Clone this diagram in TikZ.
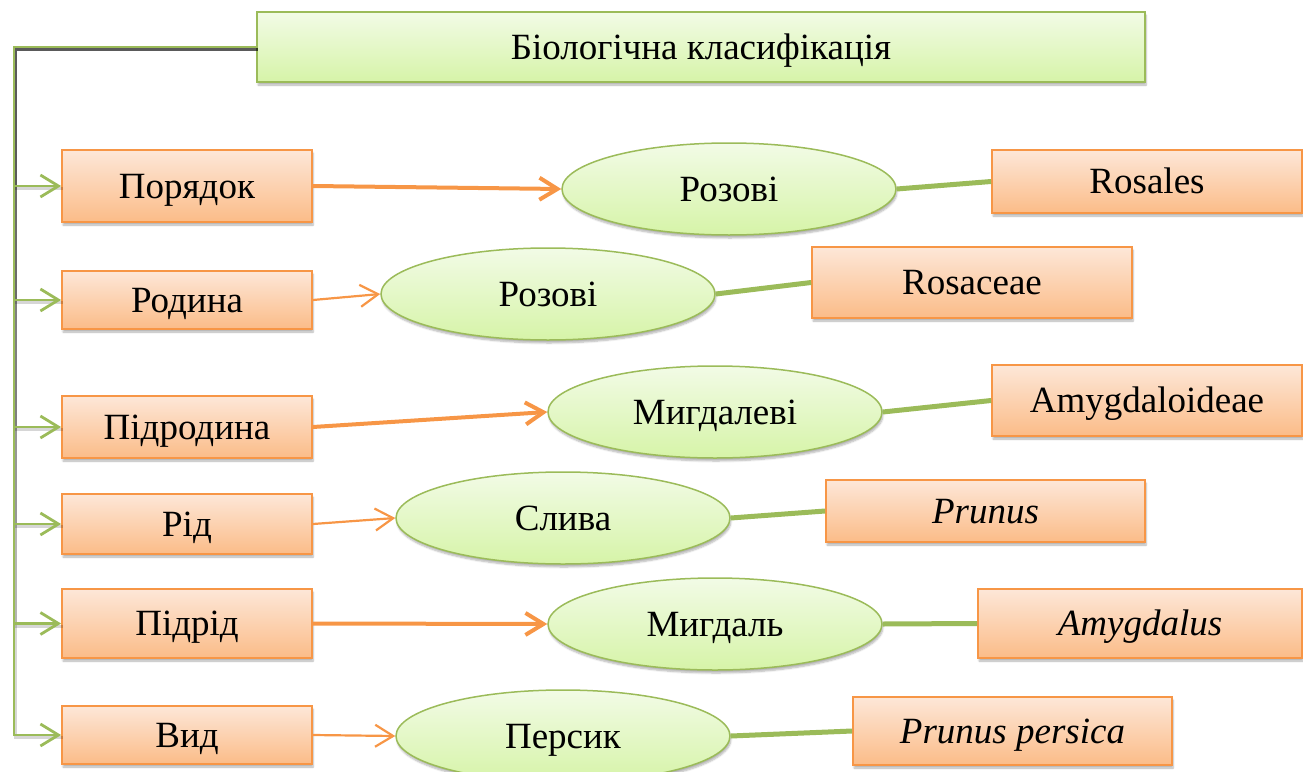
\documentclass[tikz,border=0pt]{standalone}
\usepackage{fontspec}
\setmainfont{Liberation Serif}
\usetikzlibrary{shapes.geometric,arrows.meta,shadows.blur}
\definecolor{orbrd}{HTML}{F79646}
\definecolor{ortop}{HTML}{FDE7D8}
\definecolor{orbot}{HTML}{FBBC88}
\definecolor{grbrd}{HTML}{9BBB59}
\definecolor{grtop}{HTML}{F2FBE6}
\definecolor{grbot}{HTML}{D6F4A8}
\begin{document}
\begin{tikzpicture}[x=1pt,y=-1pt,
  txt/.style={font=\fontsize{37}{42}\selectfont, inner sep=0pt, text height=24.5pt, text depth=0pt},
  shd/.style={blur shadow={shadow xshift=1pt, shadow yshift=-3pt, shadow blur steps=6, shadow opacity=30}},
  obox/.style={txt, shd, rectangle, draw=orbrd, line width=1.8pt, top color=ortop, bottom color=orbot},
  gbox/.style={txt, shd, rectangle, draw=grbrd, line width=1.8pt, top color=grtop, bottom color=grbot},
  gell/.style={txt, shd, ellipse, draw=grbrd, line width=1.5pt, top color=grtop, bottom color=grbot, minimum width=334, minimum height=92},
  barb/.style={-{Straight Barb[length=18pt,width=22pt]}},
  oarrthick/.style={barb, draw=orbrd, line width=4pt},
  oarrthin/.style={barb, draw=orbrd, line width=2.2pt},
  glink/.style={draw=grbrd, line width=5pt},
  gtree/.style={barb, draw=grbrd, line width=2.8pt},
  gtreeshadow/.style={draw=black, line width=3pt, opacity=0.16}
]
\useasboundingbox (0,0) rectangle (1303,771);

% title
\node[gbox, minimum width=888, minimum height=70] (t) at (701,47) {Біологічна класифікація};

% left column
\node[obox, minimum width=250, minimum height=72] (l1) at (187,186) {Порядок};
\node[obox, minimum width=250, minimum height=58] (l2) at (187,300) {Родина};
\node[obox, minimum width=250, minimum height=62] (l3) at (187,427) {Підродина};
\node[obox, minimum width=250, minimum height=60] (l4) at (187,524) {Рід};
\node[obox, minimum width=250, minimum height=69] (l5) at (187,623.5) {Підрід};
\node[obox, minimum width=250, minimum height=58] (l6) at (187,735) {Вид};

% ellipses
\node[gell] (e1) at (729,189) {Розові};
\node[gell] (e2) at (548,294) {Розові};
\node[gell] (e3) at (715,412) {Мигдалеві};
\node[gell] (e4) at (563,518) {Слива};
\node[gell] (e5) at (715,624) {Мигдаль};
\node[gell] (e6) at (563,736) {Персик};

% right column
\node[obox, minimum width=310, minimum height=63] (r1) at (1147,181.5) {Rosales};
\node[obox, minimum width=320, minimum height=71] (r2) at (972,282.5) {Rosaceae};
\node[obox, minimum width=310, minimum height=71] (r3) at (1147,400.5) {Amygdaloideae};
\node[obox, minimum width=319, minimum height=62] (r4) at (985.5,511) {\itshape Prunus};
\node[obox, minimum width=324, minimum height=69] (r5) at (1140,623.5) {\itshape Amygdalus};
\node[obox, minimum width=319, minimum height=68] (r6) at (1012.5,731) {\itshape Prunus persica};

% tree connectors from title
\coordinate (corner) at (14,47);
\begin{scope}[transform canvas={xshift=1.5pt,yshift=-2.5pt}]
\foreach \b in {l1,l2,l3,l4,l5,l6}
  \draw[gtreeshadow] (t.west) -- (corner) |- (\b.west);
\end{scope}
\foreach \b in {l1,l2,l3,l4,l5,l6}
  \draw[gtree] (t.west) -- (corner) |- (\b.west);

% orange arrows
\draw[oarrthick] (l1.east) -- (e1.west);
\draw[oarrthin]  (l2.east) -- (e2.west);
\draw[oarrthick] (l3.east) -- (e3.west);
\draw[oarrthin]  (l4.east) -- (e4.west);
\draw[oarrthick] (l5.east) -- (e5.west);
\draw[oarrthin]  (l6.east) -- (e6.west);

% green links
\draw[glink] (e1.east) -- (r1.west);
\draw[glink] (e2.east) -- (r2.west);
\draw[glink] (e3.east) -- (r3.west);
\draw[glink] (e4.east) -- (r4.west);
\draw[glink] (e5.east) -- (r5.west);
\draw[glink] (e6.east) -- (r6.west);
\end{tikzpicture}
\end{document}
